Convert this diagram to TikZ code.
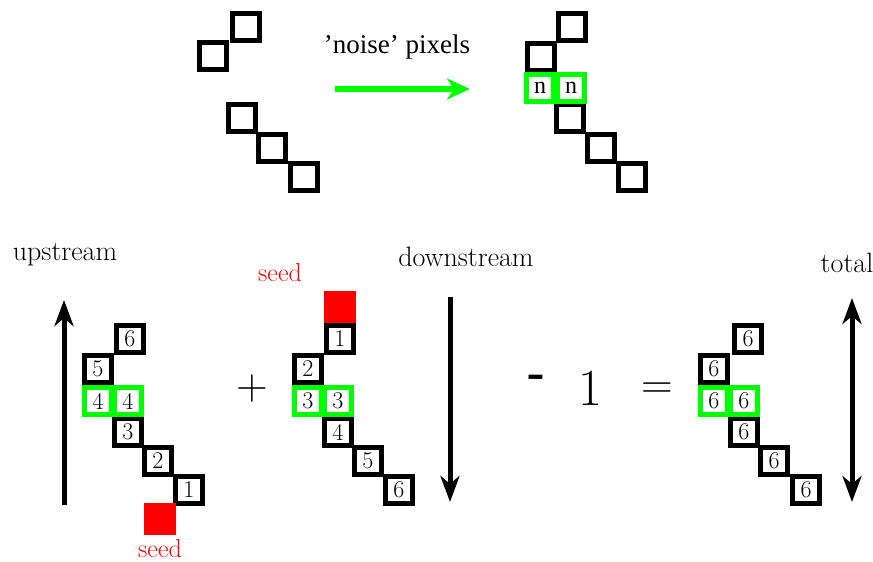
\documentclass[tikz,border=0pt]{standalone}
\usepackage{fontspec}
\newfontfamily\timesFont[Ligatures=TeX]{Liberation Serif}
\usetikzlibrary{arrows.meta}
\definecolor{pureGreen}{RGB}{0,255,0}

\begin{document}
\begin{tikzpicture}
[x=1pt,y=-1pt,
  every node/.style={inner sep=0pt},%
  cellBox/.style={draw,line width=5pt,minimum size=27pt,font=\fontsize{24}{24}\selectfont},
  noiseBox/.style={cellBox,draw=pureGreen},
  seedBox/.style={fill=red,minimum size=32pt},
  labelText/.style={anchor=base,font=\fontsize{28}{28}\selectfont},
  seedText/.style={anchor=base,text=red,font=\fontsize{26}{26}\selectfont},
  flowArrow/.style={line width=5pt,-{Stealth[length=26pt,width=19pt,inset=8pt]}},
  bothArrow/.style={line width=5pt,{Stealth[length=26pt,width=19pt,inset=8pt]}-{Stealth[length=26pt,width=19pt,inset=8pt]}}]
\useasboundingbox (0,0) rectangle (873,562);

% top: track before and after the noise pixels
\foreach \cellName/\xPos/\yPos in {
  befA/246/27, befB/213/56, befC/242/118, befD/272/148, befE/304/177,
  aftA/572/27, aftB/541/57, aftE/570/118, aftF/601/148, aftG/632/177}
{
  \node[cellBox] (\cellName) at (\xPos,\yPos) {};
}
\node[noiseBox,font=\fontsize{24}{24}\timesFont] (aftC) at (540,88) {n};
\node[noiseBox,font=\fontsize{24}{24}\timesFont] (aftD) at (571,88) {n};

\node[font=\fontsize{27}{27}\timesFont] (noiseLbl) at (397,47) {’noise’ pixels};
\coordinate (noiseFoot) at (335,89);
\coordinate (noiseHead) at (470,89);
\draw[pureGreen,line width=6pt,-{Stealth[length=23pt,width=21pt,inset=7pt]}] (noiseFoot) -- (noiseHead);

% bottom: upstream + downstream - 1 = total
\foreach \cellName/\xPos/\yPos/\hits in {
  upA/130/339/6, upB/98/369/5, upE/128/432/3, upF/158/461/2, upG/189/490/1,
  downA/340/339/1, downB/308/369/2, downE/338/432/4, downF/368/461/5, downG/399/490/6,
  totA/748/339/6, totB/714/369/6, totE/744/432/6, totF/774/461/6, totG/806/490/6}
{
  \node[cellBox] (\cellName) at (\xPos,\yPos) {\hits};
}
\foreach \cellName/\xPos/\hits in {
  upC/98/4, upD/128/4, downC/308/3, downD/338/3, totC/714/6, totD/744/6}
{
  \node[noiseBox] (\cellName) at (\xPos,401) {\hits};
}

\node[seedBox] (upSeed) at (160,519) {};
\node[seedText] (upSeedLbl) at (160,557) {seed};
\node[seedBox] (downSeed) at (340,307) {};
\node[seedText] (downSeedLbl) at (280,281) {seed};

\node[labelText] (upLbl) at (65,260) {upstream};
\node[labelText] (downLbl) at (466,266) {downstream};
\node[labelText] (totLbl) at (847,272) {total};

\node (plusSign) at (252,389) {\fontsize{44}{44}\selectfont +};
\node (minusSign) at (537,381) {\fontsize{46}{46}\selectfont\bfseries -};
\node (oneSign) at (590,388) {\fontsize{52}{52}\selectfont 1};
\node (eqSign) at (657,391) {\fontsize{44}{44}\selectfont =};

\coordinate (upFoot) at (64,505);
\coordinate (upHead) at (64,300);
\coordinate (downFoot) at (450,297);
\coordinate (downHead) at (450,502);
\coordinate (totTop) at (852,298);
\coordinate (totBottom) at (852,502);
\draw[flowArrow] (upFoot) -- (upHead);
\draw[flowArrow] (downFoot) -- (downHead);
\draw[bothArrow] (totTop) -- (totBottom);
\end{tikzpicture}
\end{document}
